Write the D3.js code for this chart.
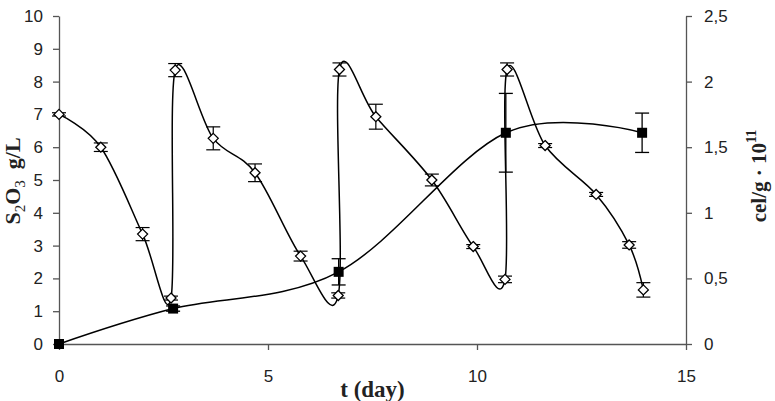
<!DOCTYPE html>
<html>
<head>
<meta charset="utf-8">
<script src="https://cdn.jsdelivr.net/npm/d3@7"></script>
<style>
  html, body { margin: 0; padding: 0; background: #fff; }
  svg { display: block; }
</style>
</head>
<body>
<div id="chart"></div>
<script>
// ---- data ----
const xTicks = [0, 5, 10, 15];
const leftTicks = [0, 1, 2, 3, 4, 5, 6, 7, 8, 9, 10];
const rightTicks = [0, 0.5, 1, 1.5, 2, 2.5];
const rightTickLabels = ["0", "0,5", "1", "1,5", "2", "2,5"];

const sulfDays   = [0, 1, 2, 2.68, 2.78, 3.69, 4.69, 5.78, 6.68, 6.71, 7.58, 8.92, 9.91, 10.67, 10.72, 11.63, 12.85, 13.64, 13.98];
const sulfValues = [7.0, 6.0, 3.35, 1.4, 8.35, 6.27, 5.22, 2.68, 1.48, 8.37, 6.93, 5.0, 2.97, 1.97, 8.37, 6.05, 4.56, 3.02, 1.65];
const sulfErr    = [0.05, 0.13, 0.2, 0.06, 0.2, 0.35, 0.27, 0.15, 0.08, 0.2, 0.38, 0.18, 0.06, 0.1, 0.2, 0.06, 0.06, 0.1, 0.22];

const cellDays   = [0, 2.73, 6.69, 10.69, 13.95];
const cellValues = [0, 0.27, 0.55, 1.61, 1.61];
const cellErr    = [0, 0.02, 0.1, 0.3, 0.15];

// ---- layout ----
const W = 775, H = 401;
const m = { left: 59, right: 89, top: 16, bottom: 57 };
const svg = d3.select("#chart").append("svg").attr("width", W).attr("height", H);

const x = d3.scaleLinear().domain([0, 15]).range([m.left, W - m.right]);
const yL = d3.scaleLinear().domain([0, 10]).range([H - m.bottom, m.top]);
const yR = d3.scaleLinear().domain([0, 2.5]).range([H - m.bottom, m.top]);

const axisColor = "#555";
const textColor = "#222";
const tickFont = "'Liberation Sans', Arial, sans-serif";
const titleFont = "'Liberation Serif', 'Times New Roman', serif";

function styleAxis(g) {
  g.select(".domain").attr("stroke", axisColor).attr("stroke-width", 1.3);
  g.selectAll(".tick line").attr("stroke", axisColor).attr("stroke-width", 1.3);
  g.selectAll(".tick text").attr("fill", textColor).style("font-family", tickFont).style("font-size", "17px");
}

// x axis
svg.append("g")
  .attr("transform", `translate(0,${H - m.bottom})`)
  .call(d3.axisBottom(x).tickValues(xTicks).tickSize(6).tickSizeOuter(0).tickPadding(20).tickFormat(d3.format("d")))
  .call(styleAxis);

// left axis
svg.append("g")
  .attr("transform", `translate(${m.left},0)`)
  .call(d3.axisLeft(yL).tickValues(leftTicks).tickSize(6).tickSizeOuter(0).tickPadding(10).tickFormat(d3.format("d")))
  .call(styleAxis);

// right axis
svg.append("g")
  .attr("transform", `translate(${W - m.right},0)`)
  .call(d3.axisRight(yR).tickValues(rightTicks).tickSize(6).tickSizeOuter(0).tickPadding(12)
        .tickFormat((d, i) => rightTickLabels[i]))
  .call(styleAxis);

// ---- titles ----
svg.append("text")
  .attr("x", (m.left + W - m.right) / 2).attr("y", 397)
  .attr("text-anchor", "middle")
  .style("font-family", titleFont).style("font-size", "23px").style("font-weight", "bold")
  .attr("fill", textColor)
  .text("t (day)");

const lt = svg.append("text")
  .attr("transform", "translate(20,181) rotate(-90)")
  .attr("text-anchor", "middle")
  .style("font-family", titleFont).style("font-size", "22px").style("font-weight", "bold")
  .attr("fill", textColor);
lt.append("tspan").text("S");
lt.append("tspan").attr("dy", 5).style("font-size", "15px").style("font-weight", "normal").text("2");
lt.append("tspan").attr("dy", -5).text("O");
lt.append("tspan").attr("dy", 5).style("font-size", "15px").style("font-weight", "normal").text("3");
lt.append("tspan").attr("dy", -5).text("\u00a0\u00a0g/L");

const rt = svg.append("text")
  .attr("transform", "translate(766,176) rotate(-90)")
  .attr("text-anchor", "middle")
  .style("font-family", titleFont).style("font-size", "21px").style("font-weight", "bold")
  .attr("fill", textColor);
rt.append("tspan").text("cel/g \u00b7 10");
rt.append("tspan").attr("dy", -10).style("font-size", "14px").text("11");

// ---- S2O3 series ----
const sulf = sulfDays.map((d, i) => ({ d, v: sulfValues[i], e: sulfErr[i] }));
const cell = cellDays.map((d, i) => ({ d, v: cellValues[i], e: cellErr[i] }));

const lineL = d3.line().x(p => x(p.d)).y(p => yL(p.v)).curve(d3.curveCardinal.tension(0));
const lineR = d3.line().x(p => x(p.d)).y(p => yR(p.v)).curve(d3.curveCardinal.tension(0));

svg.append("path").datum(sulf).attr("d", lineL)
  .attr("fill", "none").attr("stroke", "#000").attr("stroke-width", 1.5);

const cap = 7;
const eb1 = svg.append("g").attr("stroke", "#000").attr("stroke-width", 1.2);
sulf.filter(p => p.e > 0).forEach(p => {
  const cx = x(p.d), y1 = yL(p.v + p.e), y0 = yL(p.v - p.e);
  eb1.append("line").attr("x1", cx).attr("x2", cx).attr("y1", y1).attr("y2", y0);
  eb1.append("line").attr("x1", cx - cap).attr("x2", cx + cap).attr("y1", y1).attr("y2", y1);
  eb1.append("line").attr("x1", cx - cap).attr("x2", cx + cap).attr("y1", y0).attr("y2", y0);
});

svg.append("g").selectAll("path").data(sulf).join("path")
  .attr("transform", p => `translate(${x(p.d)},${yL(p.v)})`)
  .attr("d", "M0,-5L5,0L0,5L-5,0Z")
  .attr("fill", "#fff").attr("stroke", "#000").attr("stroke-width", 1.3);

// ---- cell series ----
svg.append("path").datum(cell).attr("d", lineR)
  .attr("fill", "none").attr("stroke", "#000").attr("stroke-width", 1.5);

const eb2 = svg.append("g").attr("stroke", "#000").attr("stroke-width", 1.3);
cell.filter(p => p.e > 0).forEach(p => {
  const cx = x(p.d), y1 = yR(p.v + p.e), y0 = yR(p.v - p.e);
  eb2.append("line").attr("x1", cx).attr("x2", cx).attr("y1", y1).attr("y2", y0);
  eb2.append("line").attr("x1", cx - cap).attr("x2", cx + cap).attr("y1", y1).attr("y2", y1);
  eb2.append("line").attr("x1", cx - cap).attr("x2", cx + cap).attr("y1", y0).attr("y2", y0);
});

svg.append("g").selectAll("rect").data(cell).join("rect")
  .attr("x", p => x(p.d) - 5).attr("y", p => yR(p.v) - 5)
  .attr("width", 10).attr("height", 10)
  .attr("fill", "#000");
</script>
</body>
</html>
